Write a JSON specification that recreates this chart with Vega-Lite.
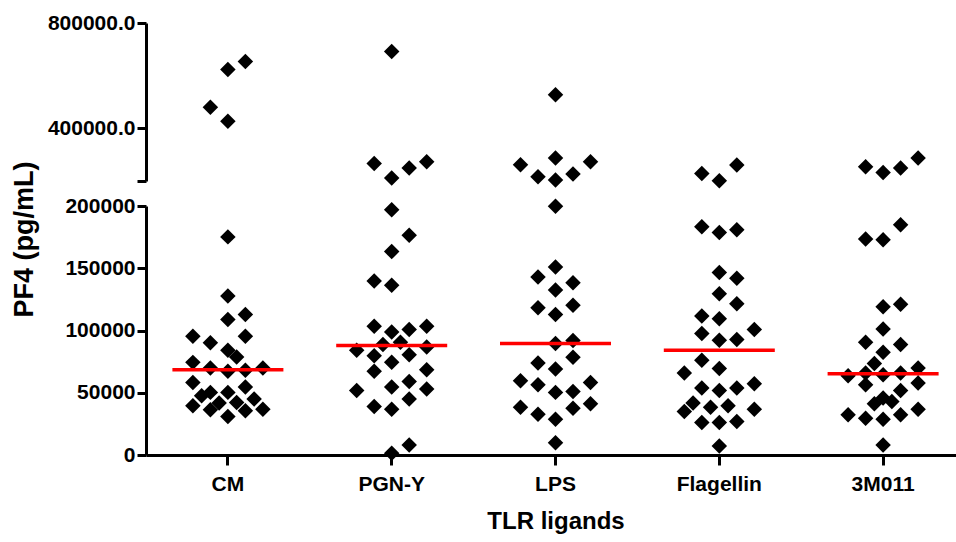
{
  "$schema": "https://vega.github.io/schema/vega-lite/v6.json",
  "background": "white",
  "padding": {"left": 10, "top": 12, "right": 5, "bottom": 2},
  "spacing": 25,
  "bounds": "flush",
  "config": {
    "view": {"stroke": null},
    "font": "Liberation Sans",
    "axis": {
      "grid": false,
      "domainColor": "black",
      "domainWidth": 3,
      "tickColor": "black",
      "tickWidth": 3,
      "tickSize": 9,
      "labelFont": "Liberation Sans",
      "labelFontWeight": "bold",
      "labelFontSize": 21,
      "labelColor": "black",
      "labelPadding": 2,
      "titleFont": "Liberation Sans",
      "titleFontWeight": "bold",
      "titleColor": "black"
    }
  },
  "datasets": {
    "points": [
      {"ligand": "CM", "value": 175200, "slot": 0},
      {"ligand": "CM", "value": 127700, "slot": 0},
      {"ligand": "CM", "value": 108900, "slot": 0},
      {"ligand": "CM", "value": 112900, "slot": 2},
      {"ligand": "CM", "value": 95400, "slot": -4},
      {"ligand": "CM", "value": 90100, "slot": -2},
      {"ligand": "CM", "value": 95400, "slot": 2},
      {"ligand": "CM", "value": 84100, "slot": 0},
      {"ligand": "CM", "value": 78800, "slot": 1},
      {"ligand": "CM", "value": 74400, "slot": -4},
      {"ligand": "CM", "value": 69900, "slot": -2},
      {"ligand": "CM", "value": 67200, "slot": 0},
      {"ligand": "CM", "value": 68000, "slot": 2},
      {"ligand": "CM", "value": 69900, "slot": 4},
      {"ligand": "CM", "value": 58300, "slot": -4},
      {"ligand": "CM", "value": 54600, "slot": 2},
      {"ligand": "CM", "value": 47600, "slot": -3},
      {"ligand": "CM", "value": 50300, "slot": -2},
      {"ligand": "CM", "value": 50300, "slot": 0},
      {"ligand": "CM", "value": 41700, "slot": -1},
      {"ligand": "CM", "value": 39500, "slot": -4},
      {"ligand": "CM", "value": 42200, "slot": 1},
      {"ligand": "CM", "value": 44900, "slot": 3},
      {"ligand": "CM", "value": 36300, "slot": -2},
      {"ligand": "CM", "value": 35500, "slot": 2},
      {"ligand": "CM", "value": 36800, "slot": 4},
      {"ligand": "CM", "value": 30900, "slot": 0},
      {"ligand": "CM", "value": 654000, "slot": 2},
      {"ligand": "CM", "value": 623600, "slot": 0},
      {"ligand": "CM", "value": 480000, "slot": -2},
      {"ligand": "CM", "value": 426700, "slot": 0},

      {"ligand": "PGN-Y", "value": 197000, "slot": 0},
      {"ligand": "PGN-Y", "value": 176600, "slot": 2},
      {"ligand": "PGN-Y", "value": 163400, "slot": 0},
      {"ligand": "PGN-Y", "value": 139800, "slot": -2},
      {"ligand": "PGN-Y", "value": 136300, "slot": 0},
      {"ligand": "PGN-Y", "value": 103500, "slot": -2},
      {"ligand": "PGN-Y", "value": 98700, "slot": 0},
      {"ligand": "PGN-Y", "value": 100800, "slot": 2},
      {"ligand": "PGN-Y", "value": 103500, "slot": 4},
      {"ligand": "PGN-Y", "value": 88700, "slot": -1},
      {"ligand": "PGN-Y", "value": 90600, "slot": 1},
      {"ligand": "PGN-Y", "value": 84100, "slot": -4},
      {"ligand": "PGN-Y", "value": 86800, "slot": 4},
      {"ligand": "PGN-Y", "value": 79800, "slot": -2},
      {"ligand": "PGN-Y", "value": 80600, "slot": 2},
      {"ligand": "PGN-Y", "value": 74500, "slot": 0},
      {"ligand": "PGN-Y", "value": 67200, "slot": -2},
      {"ligand": "PGN-Y", "value": 68500, "slot": 4},
      {"ligand": "PGN-Y", "value": 59100, "slot": 2},
      {"ligand": "PGN-Y", "value": 51900, "slot": -4},
      {"ligand": "PGN-Y", "value": 54600, "slot": 0},
      {"ligand": "PGN-Y", "value": 53000, "slot": 4},
      {"ligand": "PGN-Y", "value": 44900, "slot": 2},
      {"ligand": "PGN-Y", "value": 39000, "slot": -2},
      {"ligand": "PGN-Y", "value": 36800, "slot": 0},
      {"ligand": "PGN-Y", "value": 8100, "slot": 2},
      {"ligand": "PGN-Y", "value": 1400, "slot": 0},
      {"ligand": "PGN-Y", "value": 692000, "slot": 0},
      {"ligand": "PGN-Y", "value": 266700, "slot": -2},
      {"ligand": "PGN-Y", "value": 211000, "slot": 0},
      {"ligand": "PGN-Y", "value": 249100, "slot": 2},
      {"ligand": "PGN-Y", "value": 273100, "slot": 4},

      {"ligand": "LPS", "value": 199800, "slot": 0},
      {"ligand": "LPS", "value": 151000, "slot": 0},
      {"ligand": "LPS", "value": 143000, "slot": -2},
      {"ligand": "LPS", "value": 138400, "slot": 2},
      {"ligand": "LPS", "value": 132500, "slot": 0},
      {"ligand": "LPS", "value": 118300, "slot": -2},
      {"ligand": "LPS", "value": 120200, "slot": 2},
      {"ligand": "LPS", "value": 112900, "slot": 0},
      {"ligand": "LPS", "value": 89500, "slot": 0},
      {"ligand": "LPS", "value": 91900, "slot": 2},
      {"ligand": "LPS", "value": 78500, "slot": 2},
      {"ligand": "LPS", "value": 73900, "slot": -2},
      {"ligand": "LPS", "value": 69100, "slot": 0},
      {"ligand": "LPS", "value": 59700, "slot": -4},
      {"ligand": "LPS", "value": 56500, "slot": -2},
      {"ligand": "LPS", "value": 58300, "slot": 4},
      {"ligand": "LPS", "value": 50300, "slot": 0},
      {"ligand": "LPS", "value": 51100, "slot": 2},
      {"ligand": "LPS", "value": 38400, "slot": -4},
      {"ligand": "LPS", "value": 32800, "slot": -2},
      {"ligand": "LPS", "value": 37600, "slot": 2},
      {"ligand": "LPS", "value": 41100, "slot": 4},
      {"ligand": "LPS", "value": 28800, "slot": 0},
      {"ligand": "LPS", "value": 9900, "slot": 0},
      {"ligand": "LPS", "value": 527200, "slot": 0},
      {"ligand": "LPS", "value": 261700, "slot": -4},
      {"ligand": "LPS", "value": 216000, "slot": -2},
      {"ligand": "LPS", "value": 287200, "slot": 0},
      {"ligand": "LPS", "value": 203400, "slot": 0},
      {"ligand": "LPS", "value": 226300, "slot": 2},
      {"ligand": "LPS", "value": 273100, "slot": 4},

      {"ligand": "Flagellin", "value": 183300, "slot": -2},
      {"ligand": "Flagellin", "value": 178800, "slot": 0},
      {"ligand": "Flagellin", "value": 180900, "slot": 2},
      {"ligand": "Flagellin", "value": 146500, "slot": 0},
      {"ligand": "Flagellin", "value": 141900, "slot": 2},
      {"ligand": "Flagellin", "value": 129600, "slot": 0},
      {"ligand": "Flagellin", "value": 121500, "slot": 2},
      {"ligand": "Flagellin", "value": 111600, "slot": -2},
      {"ligand": "Flagellin", "value": 109400, "slot": 0},
      {"ligand": "Flagellin", "value": 97600, "slot": -2},
      {"ligand": "Flagellin", "value": 100800, "slot": 4},
      {"ligand": "Flagellin", "value": 92200, "slot": 0},
      {"ligand": "Flagellin", "value": 92700, "slot": 2},
      {"ligand": "Flagellin", "value": 76100, "slot": -2},
      {"ligand": "Flagellin", "value": 65900, "slot": -4},
      {"ligand": "Flagellin", "value": 69400, "slot": 0},
      {"ligand": "Flagellin", "value": 53800, "slot": -2},
      {"ligand": "Flagellin", "value": 51900, "slot": 0},
      {"ligand": "Flagellin", "value": 53800, "slot": 2},
      {"ligand": "Flagellin", "value": 57300, "slot": 4},
      {"ligand": "Flagellin", "value": 41700, "slot": -3},
      {"ligand": "Flagellin", "value": 34900, "slot": -4},
      {"ligand": "Flagellin", "value": 38400, "slot": -1},
      {"ligand": "Flagellin", "value": 39500, "slot": 1},
      {"ligand": "Flagellin", "value": 36800, "slot": 4},
      {"ligand": "Flagellin", "value": 26100, "slot": -2},
      {"ligand": "Flagellin", "value": 26100, "slot": 0},
      {"ligand": "Flagellin", "value": 26900, "slot": 2},
      {"ligand": "Flagellin", "value": 7300, "slot": 0},
      {"ligand": "Flagellin", "value": 228600, "slot": -2},
      {"ligand": "Flagellin", "value": 201000, "slot": 0},
      {"ligand": "Flagellin", "value": 260600, "slot": 2},

      {"ligand": "3M011", "value": 173400, "slot": -2},
      {"ligand": "3M011", "value": 172800, "slot": 0},
      {"ligand": "3M011", "value": 184900, "slot": 2},
      {"ligand": "3M011", "value": 119100, "slot": 0},
      {"ligand": "3M011", "value": 121000, "slot": 2},
      {"ligand": "3M011", "value": 101300, "slot": 0},
      {"ligand": "3M011", "value": 90600, "slot": -2},
      {"ligand": "3M011", "value": 88700, "slot": 2},
      {"ligand": "3M011", "value": 82500, "slot": 0},
      {"ligand": "3M011", "value": 73400, "slot": -1},
      {"ligand": "3M011", "value": 63700, "slot": -4},
      {"ligand": "3M011", "value": 65900, "slot": -2},
      {"ligand": "3M011", "value": 64500, "slot": 0},
      {"ligand": "3M011", "value": 65900, "slot": 2},
      {"ligand": "3M011", "value": 69900, "slot": 4},
      {"ligand": "3M011", "value": 56500, "slot": -2},
      {"ligand": "3M011", "value": 51900, "slot": 2},
      {"ligand": "3M011", "value": 57800, "slot": 4},
      {"ligand": "3M011", "value": 45700, "slot": 0},
      {"ligand": "3M011", "value": 43000, "slot": 1},
      {"ligand": "3M011", "value": 41100, "slot": -1},
      {"ligand": "3M011", "value": 32300, "slot": -4},
      {"ligand": "3M011", "value": 29600, "slot": -2},
      {"ligand": "3M011", "value": 28800, "slot": 0},
      {"ligand": "3M011", "value": 32300, "slot": 2},
      {"ligand": "3M011", "value": 36800, "slot": 4},
      {"ligand": "3M011", "value": 8100, "slot": 0},
      {"ligand": "3M011", "value": 254100, "slot": -2},
      {"ligand": "3M011", "value": 232400, "slot": 0},
      {"ligand": "3M011", "value": 249100, "slot": 2},
      {"ligand": "3M011", "value": 287200, "slot": 4}
    ],
    "medians": [
      {"ligand": "CM", "median": 68550},
      {"ligand": "PGN-Y", "median": 87900},
      {"ligand": "LPS", "median": 89500},
      {"ligand": "Flagellin", "median": 84100},
      {"ligand": "3M011", "median": 65300}
    ]
  },
  "vconcat": [
    {
      "width": 819,
      "height": 158,
      "data": {"name": "points"},
      "transform": [{"filter": "datum.value >= 200000"}],
      "mark": {"type": "point", "shape": "diamond", "filled": true, "color": "black", "opacity": 1, "size": 240},
      "encoding": {
        "x": {"field": "ligand", "type": "nominal", "sort": ["CM", "PGN-Y", "LPS", "Flagellin", "3M011"], "scale": {"paddingInner": 0, "paddingOuter": 0}, "axis": null},
        "xOffset": {"field": "slot", "type": "quantitative", "scale": {"domain": [-9.36, 9.36]}},
        "y": {
          "field": "value", "type": "quantitative",
          "scale": {"domain": [200000, 800000], "nice": false, "zero": false},
          "axis": {
            "values": [200000, 400000, 800000],
            "labelExpr": "datum.value == 200000 ? '' : format(datum.value, '.1f')",
            "title": "PF4 (pg/mL)",
            "titleFontSize": 27,
            "titlePadding": 9,
            "titleY": 216
          }
        }
      }
    },
    {
      "width": 819,
      "height": 249,
      "layer": [
        {
          "data": {"name": "points"},
          "transform": [{"filter": "datum.value < 200000"}],
          "mark": {"type": "point", "shape": "diamond", "filled": true, "color": "black", "opacity": 1, "size": 240},
          "encoding": {
            "x": {"field": "ligand", "type": "nominal", "sort": ["CM", "PGN-Y", "LPS", "Flagellin", "3M011"], "scale": {"paddingInner": 0, "paddingOuter": 0},
              "axis": {"title": "TLR ligands", "titleFontSize": 24, "labelAngle": 0, "tickSize": 10, "labelPadding": 8, "titlePadding": 15}},
            "xOffset": {"field": "slot", "type": "quantitative", "scale": {"domain": [-9.36, 9.36]}},
            "y": {
              "field": "value", "type": "quantitative",
              "scale": {"domain": [0, 200000], "nice": false},
              "axis": {"values": [0, 50000, 100000, 150000, 200000], "format": "d", "title": null}
            }
          }
        },
        {
          "data": {"name": "medians"},
          "mark": {"type": "tick", "orient": "horizontal", "color": "#ff0000", "size": 111, "thickness": 3.5, "opacity": 1},
          "encoding": {
            "x": {"field": "ligand", "type": "nominal", "sort": ["CM", "PGN-Y", "LPS", "Flagellin", "3M011"]},
            "y": {"field": "median", "type": "quantitative"}
          }
        }
      ]
    }
  ]
}
